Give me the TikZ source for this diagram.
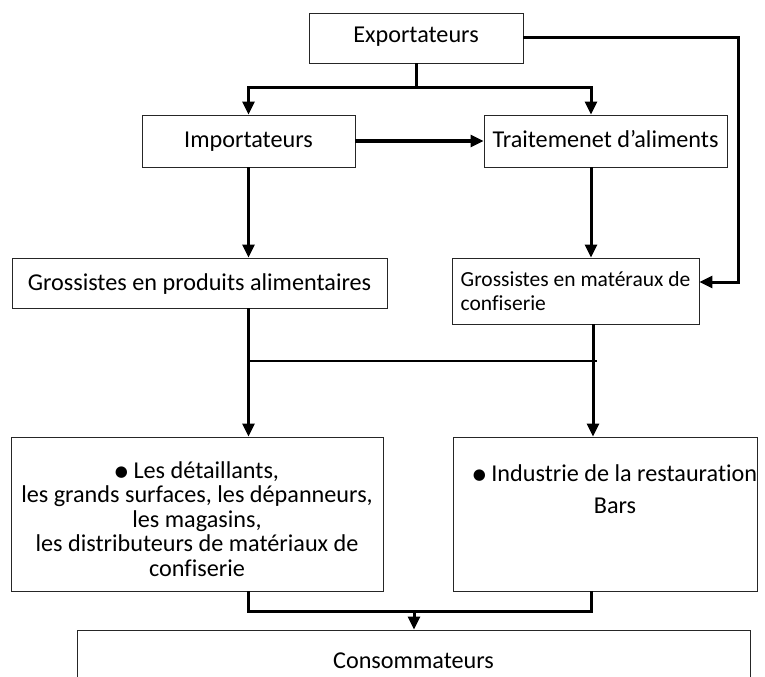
\documentclass[tikz,border=0pt]{standalone}
\usepackage{fontspec}
\setmainfont{Carlito}[Ligatures={NoCommon}]
\newfontfamily\dejavu{DejaVu Sans}
\usetikzlibrary{arrows.meta}
\newcommand{\blt}{\raisebox{1.5bp}{\dejavu\fontsize{15bp}{15bp}\selectfont ●}}
\tikzset{
  box/.style={draw=black!85, line width=0.9bp, inner sep=0pt, align=center,
    font=\fontsize{24.2bp}{25bp}\selectfont},
  oneline/.style={text height=19bp, text depth=5bp},
  onelinehigh/.style={text height=17bp, text depth=7bp},
  txt/.style={inner sep=0pt, align=center, font=\fontsize{24.2bp}{24.5bp}\selectfont},
  conn/.style={line width=3bp},
  arr/.style={conn, -{Triangle[length=13bp,width=12bp]}},
  thinline/.style={line width=2bp},
}
\begin{document}
\begin{tikzpicture}[x=1bp,y=-1bp]
\useasboundingbox (0,0) rectangle (765,677);
\clip (0,0) rectangle (765,677);
\fill[white] (0,0) rectangle (765,677);

% boxes
\node[box, onelinehigh, minimum width=214bp, minimum height=50bp] (exp) at (416,38) {Exportateurs};
\node[box, oneline, minimum width=213bp, minimum height=52bp] (imp) at (248.5,141) {Importateurs};
\node[box, oneline, minimum width=243bp, minimum height=52bp] (trait) at (605.5,141) {Traitemenet d’aliments};
\node[box, oneline, minimum width=375bp, minimum height=50bp] (gp) at (199.5,283) {Grossistes en produits alimentaires};
\node[box, minimum width=247bp, minimum height=66bp, align=left,
  font=\fontsize{21.5bp}{24bp}\selectfont] (mat) at (575.5,291) {Grossistes en matéraux de\\confiserie};
\node[box, minimum width=372bp, minimum height=154bp] (lb) at (197,514) {};
\node[box, minimum width=304bp, minimum height=154bp] (rb) at (605,514) {};
\node[box, onelinehigh, minimum width=673bp, minimum height=66bp] (cons) at (413.5,663) {Consommateurs};

% texts of the large boxes
\node[txt] (lbt) at (197,519) {\blt\ Les détaillants,\\les grands surfaces, les dépanneurs,\\les magasins,\\les distributeurs de matériaux de\\confiserie};
\node[txt] (rbt) at (615,489) {\blt\ Industrie de la restauration\\[8bp]Bars};

% junction coordinates
\coordinate (j1) at (416,88);
\coordinate (j2) at (591,88);
\coordinate (j3) at (738,282);
\coordinate (j4) at (593,361);
\coordinate (j5) at (597,361);
\coordinate (j6) at (414,611);
\coordinate (j7) at (591,611);

% connectors
\draw[conn] (exp.south) -- (j1);
\draw[arr] (j1) -| (imp.north);
\draw[arr] (j1) -- (j2) -- (j2 |- trait.north);
\draw[arr] (imp.east) -- (trait.west);
\draw[arr] (exp.east) -| (j3) -- (j3 -| mat.east);
\draw[arr] (imp.south) -- (imp.south |- gp.north);
\draw[arr] (j2 |- trait.south) -- (j2 |- mat.north);
\draw[arr] (imp.south |- gp.south) -- (imp.south |- lb.north);
\draw[arr] (j4 |- mat.south) -- (j4 |- rb.north);
\draw[thinline] (imp.south |- j4) -- (j5);
\draw[conn] (imp.south |- lb.south) |- (j7) -- (j7 |- rb.south);
\draw[arr] (j6) -- (j6 |- cons.north);
\end{tikzpicture}
\end{document}
